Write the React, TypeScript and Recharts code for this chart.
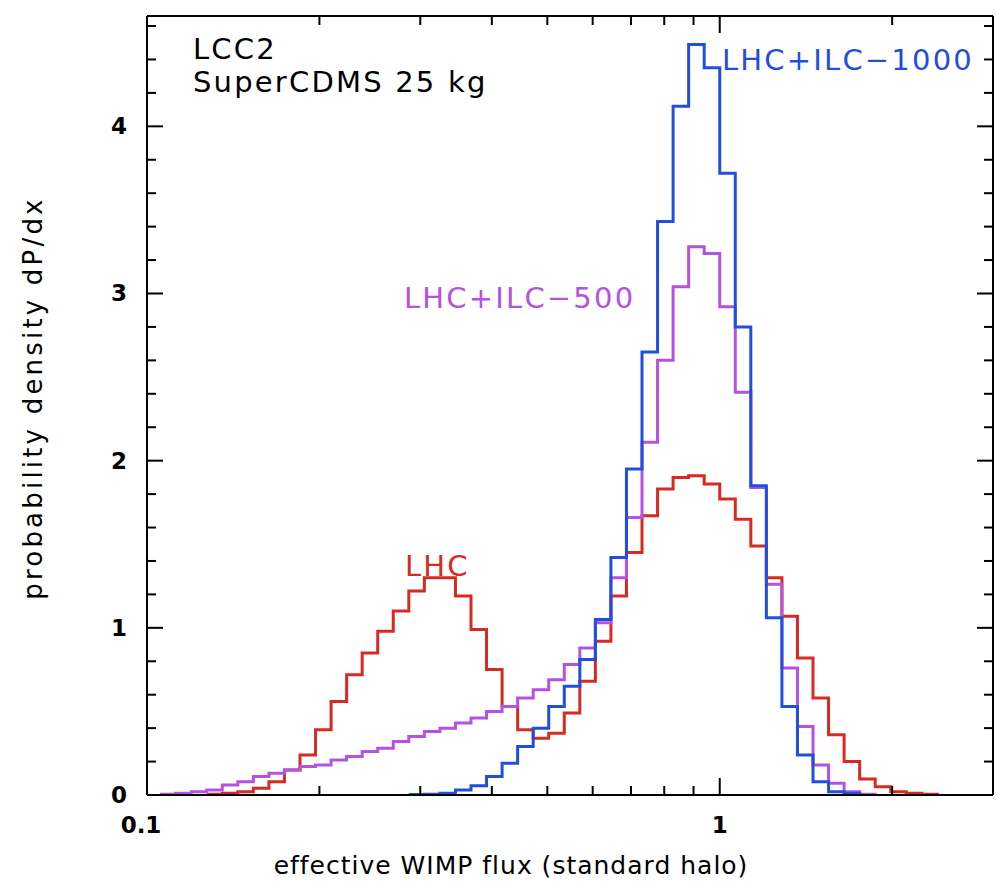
import React from "react";
import { ComposedChart, Line, XAxis, YAxis } from "recharts";

// histogram bins are uniform in ln(x), width 1/16; bin k spans [e^(k/16), e^((k+1)/16)]
const LN_BIN = 1 / 16;

const LHC_FIRST_BIN = -33;
const LHC = [
  0.005, 0.01, 0.02, 0.04, 0.08, 0.15, 0.24, 0.39, 0.56, 0.72, 0.85, 0.98, 1.1, 1.22, 1.3, 1.3,
  1.19, 0.99, 0.75, 0.53, 0.39, 0.34, 0.37, 0.49, 0.68, 0.92, 1.19, 1.45, 1.67, 1.83, 1.9, 1.91,
  1.86, 1.77, 1.65, 1.49, 1.3, 1.07, 0.82, 0.58, 0.36, 0.2, 0.095, 0.05, 0.02, 0.01, 0.005,
];

const ILC500_FIRST_BIN = -36;
const ILC500 = [
  0.005, 0.01, 0.02, 0.03, 0.06, 0.08, 0.11, 0.13, 0.15, 0.17, 0.18, 0.21, 0.23, 0.26, 0.28, 0.32,
  0.35, 0.38, 0.4, 0.43, 0.46, 0.5, 0.53, 0.58, 0.63, 0.69, 0.78, 0.88, 1.03, 1.3, 1.66, 2.11,
  2.6, 3.04, 3.28, 3.24, 2.92, 2.41, 1.84, 1.26, 0.76, 0.41, 0.18, 0.07, 0.02, 0.005,
];

const ILC1000_FIRST_BIN = -20;
const ILC1000 = [
  0.003, 0.005, 0.01, 0.03, 0.055, 0.11, 0.19, 0.29, 0.4, 0.53, 0.65, 0.81, 1.05, 1.42, 1.95, 2.65,
  3.43, 4.12, 4.49, 4.35, 3.72, 2.8, 1.85, 1.06, 0.53, 0.24, 0.08, 0.02, 0.01,
];

const X_TICKS = [0.1, 0.2, 0.3, 0.4, 0.5, 0.6, 0.7, 0.8, 0.9, 1, 2, 3];
const X_LABELS = [0.1, 1];
const Y_TICKS = [0, 0.2, 0.4, 0.6, 0.8, 1, 1.2, 1.4, 1.6, 1.8, 2, 2.2, 2.4, 2.6, 2.8, 3, 3.2, 3.4, 3.6, 3.8, 4, 4.2, 4.4, 4.6];
const Y_LABELS = [0, 1, 2, 3, 4];

const RED = "#d62a22";
const PURPLE = "#b452e4";
const BLUE = "#1f4fdc";
const FONT = "'DejaVu Sans', sans-serif";

function toSteps(first: number, heights: number[]) {
  const pts = heights.map((h, i) => ({ x: Math.exp((first + i) * LN_BIN), y: h }));
  pts.push({ x: Math.exp((first + heights.length) * LN_BIN), y: 0 });
  return pts;
}

const BottomTick = ({ x, y, payload }: any) => {
  const major = X_LABELS.includes(payload.value);
  return (
    <g>
      <line x1={x} x2={x} y1={y} y2={y - (major ? 17 : 9)} stroke="#000" strokeWidth={2} />
      {major && (
        <text x={payload.value === 0.1 ? x - 6 : x} y={y + 38} textAnchor="middle" fontSize={23} fontWeight="bold" fontFamily={FONT} fill="#000">
          {payload.value}
        </text>
      )}
    </g>
  );
};

const TopTick = ({ x, y, payload }: any) => {
  const major = X_LABELS.includes(payload.value);
  return <line x1={x} x2={x} y1={y} y2={y + (major ? 17 : 9)} stroke="#000" strokeWidth={2} />;
};

const LeftTick = ({ x, y, payload }: any) => {
  const major = Y_LABELS.includes(payload.value);
  return (
    <g>
      <line x1={x} x2={x + (major ? 16 : 9)} y1={y} y2={y} stroke="#000" strokeWidth={2} />
      {major && (
        <text x={x - 20} y={y + 8} textAnchor="end" fontSize={23} fontWeight="bold" fontFamily={FONT} fill="#000">
          {payload.value}
        </text>
      )}
    </g>
  );
};

const RightTick = ({ x, y, payload }: any) => {
  const major = Y_LABELS.includes(payload.value);
  return <line x1={x} x2={x - (major ? 16 : 9)} y1={y} y2={y} stroke="#000" strokeWidth={2} />;
};

const axisLine = { stroke: "#000", strokeWidth: 2 };

const note = (text: string, left: number, top: number, color: string) => (
  <div style={{ position: "absolute", left, top, color, fontSize: 29, lineHeight: 1, whiteSpace: "nowrap", letterSpacing: 2.2 }}>
    {text}
  </div>
);

export default function App() {
  return (
    <div style={{ position: "absolute", left: 0, top: 0, width: 998, height: 891, background: "#fff", fontFamily: FONT }}>
      <ComposedChart width={998} height={891} margin={{ top: 15, right: 4, bottom: 95, left: 146 }}>
        <XAxis
          dataKey="x"
          type="number"
          scale="log"
          domain={[0.1, 3]}
          allowDataOverflow
          ticks={X_TICKS}
          interval={0}
          height={1}
          tickSize={0}
          tickMargin={0}
          tick={<BottomTick />}
          axisLine={axisLine}
          tickLine={false}
        />
        <XAxis
          xAxisId="top"
          orientation="top"
          dataKey="x"
          type="number"
          scale="log"
          domain={[0.1, 3]}
          allowDataOverflow
          ticks={X_TICKS}
          interval={0}
          height={1}
          tickSize={0}
          tickMargin={0}
          tick={<TopTick />}
          axisLine={axisLine}
          tickLine={false}
        />
        <YAxis
          type="number"
          domain={[0, 4.66]}
          allowDataOverflow
          ticks={Y_TICKS}
          interval={0}
          width={1}
          tickSize={0}
          tickMargin={0}
          tick={<LeftTick />}
          axisLine={axisLine}
          tickLine={false}
        />
        <YAxis
          yAxisId="right"
          orientation="right"
          type="number"
          domain={[0, 4.66]}
          allowDataOverflow
          ticks={Y_TICKS}
          interval={0}
          width={1}
          tickSize={0}
          tickMargin={0}
          tick={<RightTick />}
          axisLine={axisLine}
          tickLine={false}
        />
        <Line data={toSteps(LHC_FIRST_BIN, LHC)} dataKey="y" type="stepAfter" stroke={RED} strokeWidth={3} dot={false} isAnimationActive={false} />
        <Line data={toSteps(ILC500_FIRST_BIN, ILC500)} dataKey="y" type="stepAfter" stroke={PURPLE} strokeWidth={3} dot={false} isAnimationActive={false} />
        <Line data={toSteps(ILC1000_FIRST_BIN, ILC1000)} dataKey="y" type="stepAfter" stroke={BLUE} strokeWidth={3} dot={false} isAnimationActive={false} />
      </ComposedChart>

      {note("LCC2", 193, 35, "#000")}
      {note("SuperCDMS 25 kg", 193, 68, "#000")}
      {note("LHC+ILC\u22121000", 722, 46, BLUE)}
      {note("LHC+ILC\u2212500", 404, 284, PURPLE)}
      {note("LHC", 405, 552, RED)}

      <div style={{ position: "absolute", left: 511, top: 853, transform: "translateX(-50%)", fontSize: 25, lineHeight: 1, whiteSpace: "nowrap", letterSpacing: 1 }}>
        effective WIMP flux (standard halo)
      </div>
      <div
        style={{
          position: "absolute",
          left: 33,
          top: 398,
          transform: "translate(-50%, -50%) rotate(-90deg)",
          fontSize: 26,
          lineHeight: 1,
          whiteSpace: "nowrap",
          letterSpacing: 3.2,
        }}
      >
        probability density dP/dx
      </div>
    </div>
  );
}
